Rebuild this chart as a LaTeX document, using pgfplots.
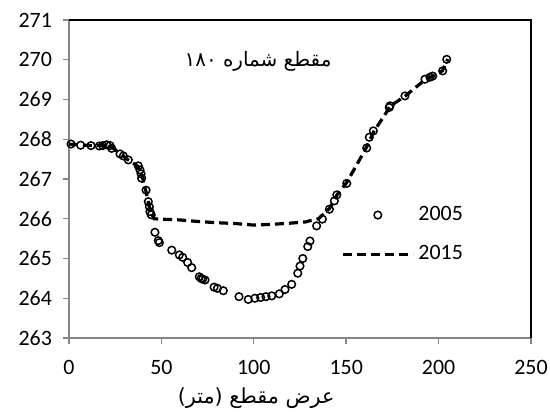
\documentclass[border=0pt]{standalone}
\usepackage{pgfplots}
\pgfplotsset{compat=1.18}
\usepackage{fontspec}
\setmainfont{Carlito}
\newfontfamily\arabicfont[Script=Arabic]{DejaVu Sans}
\TeXXeTstate=1
\definecolor{axisgray}{HTML}{868686}

\begin{document}
\begin{tikzpicture}
\begin{axis}[
    name=ax,
    scale only axis,
    width=231bp, height=159bp,
    xmin=0, xmax=250, ymin=263, ymax=271,
    xtick={0,50,100,150,200,250},
    ytick={263,264,265,266,267,268,269,270,271},
    axis x line=bottom, axis y line=left,
    axis line style={-, draw=axisgray, line width=0.7bp},
    tick align=outside,
    major tick length=3bp,
    tick style={draw=axisgray, line width=0.7bp},
    ticklabel style={font=\fontsize{11}{13}\selectfont, text=black},
    /pgf/number format/assume math mode=true,
    /pgf/number format/set thousands separator={},
    xticklabel style={yshift=-4.5bp},
    yticklabel style={xshift=-2bp},
    xlabel={\arabicfont\beginR عرض مقطع (متر)\endR},
    xlabel style={at={(rel axis cs:0.405,0)}, anchor=center, yshift=-30bp,
                  font=\fontsize{10.4}{12}\selectfont},
    clip=false,
    legend cell align=left,
    legend style={draw=none, fill=none, at={(axis cs:181.3,265.6)}, anchor=center,
                  font=\fontsize{11}{13}\selectfont, row sep=7bp},
    legend image code/.code={\draw[mark repeat=2,mark phase=2,#1]
        plot coordinates {(0bp,0bp) (17.5bp,0bp) (35bp,0bp)};},
  ]

  % 2005 survey
  \addplot[only marks, mark=o, mark size=1.9bp,
           mark options={solid, black, line width=0.75bp}] coordinates {
    (1.1,267.88) (6.3,267.85) (11.9,267.84) (16.4,267.83) (18.2,267.84)
    (20.4,267.86) (22.2,267.84) (23.1,267.77) (27.6,267.63) (29.4,267.58)
    (32.1,267.48) (37.5,267.33) (38.4,267.23) (39.0,267.13) (39.3,267.02)
    (41.7,266.72) (42.9,266.43) (43.5,266.30) (43.8,266.18) (44.5,266.10)
    (46.5,265.66) (48.3,265.45) (48.9,265.40) (55.6,265.21) (59.7,265.09)
    (61.5,265.03) (64.2,264.90) (66.4,264.77) (70.5,264.54) (71.5,264.50)
    (72.3,264.48) (73.6,264.46) (78.5,264.28) (80.3,264.25) (83.5,264.19)
    (92.0,264.04) (97.0,263.97) (100.6,264.00) (103.7,264.02) (106.6,264.04)
    (109.7,264.06) (113.8,264.11) (116.9,264.22) (120.5,264.35) (123.8,264.63)
    (125.0,264.81) (126.5,265.00) (129.2,265.30) (130.4,265.44) (134.0,265.82)
    (137.1,265.99) (140.9,266.24) (143.6,266.45) (144.9,266.60) (150.3,266.89)
    (161.1,267.78) (162.5,268.05) (164.7,268.21) (173.3,268.80) (173.7,268.84)
    (181.8,269.09) (192.6,269.51) (195.3,269.56) (196.8,269.59) (202.2,269.72)
    (204.4,270.01)
  };
  \addlegendentry{2005}

  % 2015 survey
  \addplot[black, line width=1.6bp, dash pattern=on 4.5bp off 2.5bp, no marks] coordinates {
    (0,267.88) (5,267.86) (12,267.84) (18,267.84) (22,267.84) (24,267.77)
    (28,267.63) (32,267.48) (37,267.33) (39,267.15) (40,267.00) (41.5,266.72)
    (43,266.40) (44,266.20) (46,266.00) (50,265.99) (60,265.97) (70,265.93)
    (80,265.90) (90,265.88) (100,265.84) (110,265.86) (120,265.89) (128,265.92)
    (132,265.97) (135,266.00) (141,266.26) (145,266.60) (150,266.89) (155,267.30)
    (161,267.80) (165,268.20) (170,268.55) (174,268.84) (182,269.09) (193,269.51)
    (197,269.59) (202,269.72) (205,270.02)
  };
  \addlegendentry{2015}

  \draw[black, line width=0.7bp] (rel axis cs:0,1) -- (rel axis cs:1,1) -- (rel axis cs:1,0);
  \node[font=\arabicfont\fontsize{10}{12}\selectfont] at (axis cs:102.3,269.97)
    {\beginR مقطع شماره ۱۸۰\endR};
\end{axis}
\pgfresetboundingbox
\path[use as bounding box] ([shift={(-34.5bp,-37bp)}]ax.south west)
  rectangle ([shift={(9.5bp,10bp)}]ax.north east);
\end{tikzpicture}
\end{document}
